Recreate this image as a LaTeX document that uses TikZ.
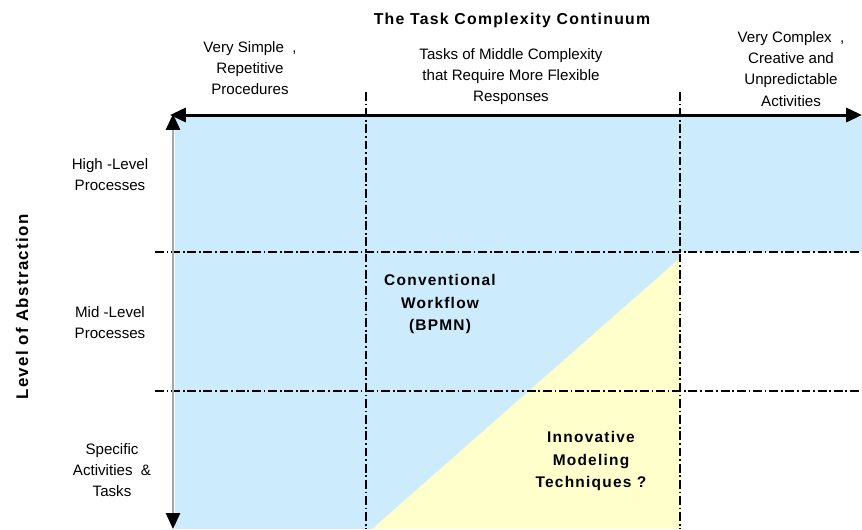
\documentclass[tikz,border=0pt]{standalone}
\usepackage{fontspec}
\setmainfont{Liberation Sans}
\newfontfamily\widefont[LetterSpace=8]{Liberation Sans}
\usepackage{xcolor}
\usetikzlibrary{arrows.meta, positioning, calc}

\definecolor{skyfill}{RGB}{204,235,253}
\definecolor{creamfill}{RGB}{255,255,204}

\tikzset{
  lbl/.style={font=\fontsize{8.6}{12}\selectfont, align=center, inner sep=0pt},
  heavy/.style={font=\widefont\bfseries\fontsize{8.8}{12.8}\selectfont, align=center, inner sep=0pt},
  divider/.style={line width=1.3pt, dash pattern=on 5pt off 1.6pt on 1pt off 1.6pt},
  tip/.style={-{Triangle[length=9pt, width=8pt, black]}}
}

\begin{document}
\begin{tikzpicture}[x=0.02cm, y=-0.02cm]
\useasboundingbox (0,0) rectangle (862,529);
% shaded regions
\fill[skyfill] (175,117) rectangle (862,529);
\fill[white] (680,252) rectangle (862,529);
\fill[creamfill] (680,258) -- (680,529) -- (372,529) -- cycle;
% grid of dash-dot dividers
\foreach \x in {366,680} {
    \draw[divider] (\x,92) -- (\x,529);
}
\foreach \y in {252,391} {
    \draw[divider] (155,\y) -- (862,\y);
}
% axes
\coordinate (hmid) at (516,115);
\coordinate (hleft) at (170,115);
\coordinate (hright) at (862,115);
\coordinate (vmid) at (173,320);
\coordinate (vtop) at (173,114);
\coordinate (vbot) at (173,529);
\draw[line width=1.7pt, tip] (hmid) -- (hleft);
\draw[line width=1.7pt, tip] (hmid) -- (hright);
\draw[line width=1.1pt, gray!70, tip] (vmid) -- (vtop);
\draw[line width=1.1pt, gray!70, tip] (vmid) -- (vbot);
% labels
\node[heavy, font=\widefont\bfseries\fontsize{9}{11}\selectfont] (title) at (512,20) {The Task Complexity Continuum};
\node[lbl] (simple) at (250,68) {Very Simple \ ,\\Repetitive\\Procedures};
\node[lbl] (middle) at (511,77) {Tasks of Middle Complexity\\that Require More Flexible\\Responses};
\node[lbl] (complex) at (791,69) {Very Complex \ ,\\Creative and\\Unpredictable\\Activities};
\node[lbl] (high) at (110,175) {High -Level\\Processes};
\node[lbl] (mid) at (110,323) {Mid -Level\\Processes};
\node[lbl] (spec) at (112,470) {Specific\\Activities \ \&\\Tasks};
\node[heavy, font=\widefont\bfseries\fontsize{9.6}{11}\selectfont, rotate=90] (abstr) at (22,307) {Level of Abstraction};
\node[heavy] (conv) at (440,304) {Conventional\\Workflow\\(BPMN)};
\node[heavy] (innov) at (591,461) {Innovative\\Modeling\\Techniques ?};
\end{tikzpicture}
\end{document}
